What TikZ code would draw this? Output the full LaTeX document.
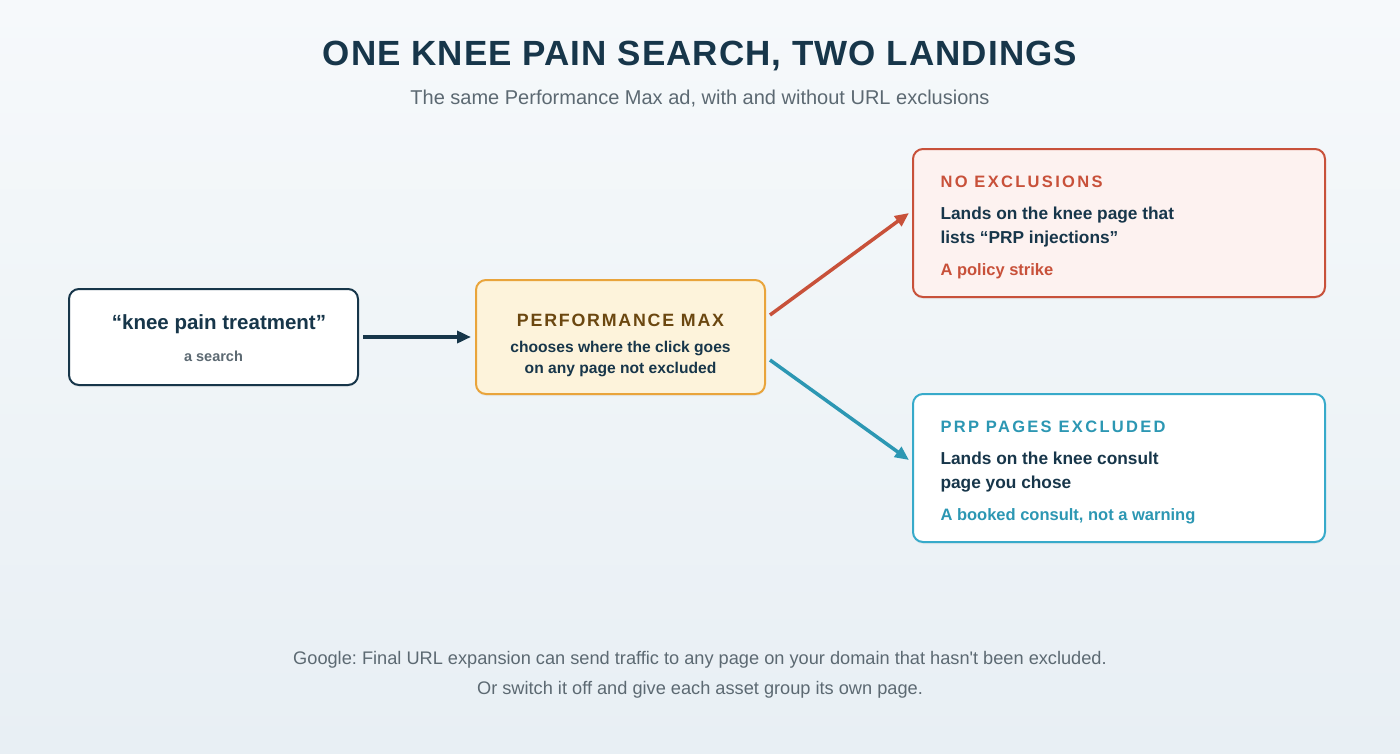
\documentclass[tikz,border=0pt]{standalone}
\usepackage{fontspec}
\setmainfont{Liberation Sans}
\newfontfamily\rawf{Liberation Sans}[Ligatures=ResetAll]
\usetikzlibrary{arrows.meta,shadows}
\definecolor{navy}{HTML}{17364A}
\definecolor{gr}{HTML}{5C6972}
\definecolor{brn}{HTML}{6B4710}
\definecolor{rd}{HTML}{C8513A}
\definecolor{teal}{HTML}{2C97B3}
\definecolor{tealb}{HTML}{37AACA}
\definecolor{orb}{HTML}{E9A43B}
\definecolor{orf}{HTML}{FDF3DB}
\definecolor{rdf}{HTML}{FDF2F0}
\definecolor{bgt}{HTML}{F6F9FB}
\definecolor{bgb}{HTML}{E8EFF4}
\frenchspacing
\begin{document}
\begin{tikzpicture}[x=1pt,y=-1pt,
  box/.style={rounded corners=10pt,line width=2pt,drop shadow={shadow xshift=0pt,shadow yshift=-2pt,opacity=0.08}},
  lbl/.style={text=navy,align=left,anchor=west},
  arr/.style={line width=3.5pt,-{Triangle[length=14pt,width=12pt]}}]
\shade[top color=bgt,bottom color=bgb] (0,0) rectangle (1400,753);
\useasboundingbox (0,0) rectangle (1400,753);
\node (title) at (700,56) {\fontsize{35}{40}\selectfont\bfseries\color{navy}\addfontfeature{LetterSpace=3}ONE KNEE PAIN SEARCH, TWO LANDINGS};
\node (sub) at (700,99) {\fontsize{20}{24}\selectfont\color{gr}The same Performance Max ad, with and without URL exclusions};
% boxes
\draw[box,draw=navy,fill=white] (69,289) rectangle (358,385);
\node (t1) at (219,324) {\fontsize{20.5}{24}\selectfont\bfseries\color{navy}“knee pain treatment”};
\node (s1) at (213.5,356) {\fontsize{14.5}{17}\selectfont\bfseries\color{gr}a search};
\draw[box,draw=orb,fill=orf] (476,280) rectangle (765,394);
\node (t2) at (620.5,320) {\fontsize{17.8}{21}\selectfont\bfseries\color{brn}\addfontfeature{LetterSpace=10}PERFORMANCE MAX};
\node (s2) at (620.5,359) [align=center,font=\bfseries\fontsize{15.6}{21}\selectfont,text=navy] {chooses where the click goes\\on any page not excluded};
\draw[box,draw=rd,fill=rdf] (913,149) rectangle (1325,297);
\node (t3) at (937,182) [anchor=west] {\fontsize{16.5}{19}\selectfont\bfseries\color{rd}\addfontfeature{LetterSpace=14}NO EXCLUSIONS};
\node (s3) at (937,227) [lbl,font=\bfseries\fontsize{17.3}{24}\selectfont] {Lands on the knee page that\\lists “PRP injections”};
\node (u3) at (937,271) [anchor=west] {\fontsize{16.5}{19}\selectfont\bfseries\color{rd}A policy strike};
\draw[box,draw=tealb,fill=white] (913,394) rectangle (1325,542);
\node (t4) at (937,427) [anchor=west] {\fontsize{16.5}{19}\selectfont\bfseries\color{teal}\addfontfeature{LetterSpace=14}PRP PAGES EXCLUDED};
\node (s4) at (937,472) [lbl,font=\bfseries\fontsize{17.3}{24}\selectfont] {Lands on the knee consult\\page you chose};
\node (u4) at (937,516) [anchor=west] {\fontsize{16.5}{19}\selectfont\bfseries\color{teal}A booked consult, not a warning};
% arrows
\coordinate (a1s) at (363,337); \coordinate (a1e) at (471,337);
\coordinate (a2s) at (770,315); \coordinate (a2e) at (909,213);
\coordinate (a3s) at (770,360); \coordinate (a3e) at (909,460);
\draw[arr,navy] (a1s) -- (a1e);
\draw[arr,rd] (a2s) -- (a2e);
\draw[arr,teal] (a3s) -- (a3e);
\node (f1) at (700,660) {\fontsize{18.2}{22}\selectfont\color{gr}Google: Final URL expansion can send traffic to any page on your domain that hasn{\rawf '}t been excluded.};
\node (f2) at (700,690) {\fontsize{18.2}{22}\selectfont\color{gr}Or switch it off and give each asset group its own page.};
\end{tikzpicture}
\end{document}
